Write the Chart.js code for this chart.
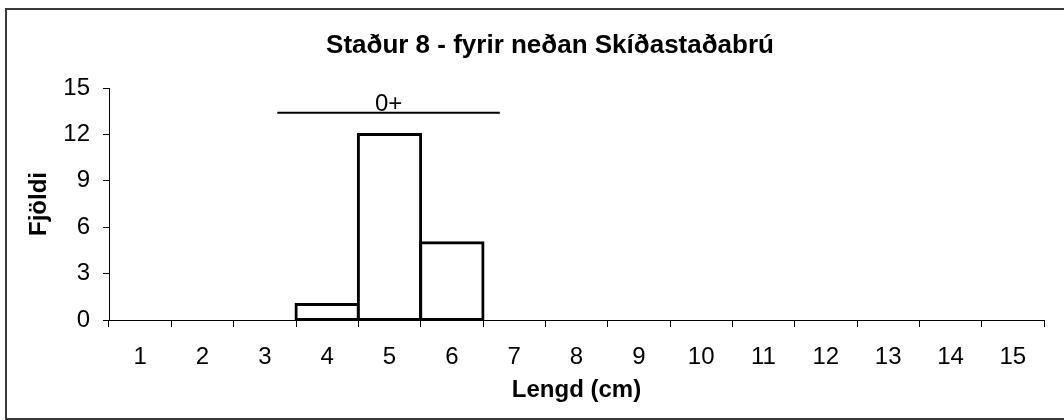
<!DOCTYPE html>
<html>
<head>
<meta charset="utf-8">
<script src="https://cdn.jsdelivr.net/npm/chart.js@4.4.1/dist/chart.umd.min.js"></script>
<style>
    html, body { margin: 0; padding: 0; background: #fff; }
</style>
</head>
<body>
<canvas id="lengthChart" width="1064" height="420"></canvas>
<script>
// data
const chartTitle = "Staður 8 - fyrir neðan Skíðastaðabrú";
const lengths = ["1", "2", "3", "4", "5", "6", "7", "8", "9", "10", "11", "12", "13", "14", "15"];
const counts = [0, 0, 0, 1, 12, 5, 0, 0, 0, 0, 0, 0, 0, 0, 0];
const yTicks = [0, 3, 6, 9, 12, 15];

// age group bracket (length in cm, level in fish count)
const ageGroups = ["0+"];
const ageGroupFrom = [3.2];
const ageGroupTo = [6.77];
const ageGroupLevel = [13.4];

const FONT = "'Liberation Sans', Arial, sans-serif";
Chart.defaults.font.family = FONT;
Chart.defaults.color = "#000";

const framePlugin = {
    id: "frame",
    beforeDraw(chart) {
        const ctx = chart.ctx;
        ctx.save();
        ctx.fillStyle = "#fff";
        ctx.fillRect(0, 0, chart.width, chart.height);
        ctx.strokeStyle = "#3a3a3a";
        ctx.lineWidth = 2;
        ctx.strokeRect(6, 9, chart.width + 20, chart.height - 10);

        ctx.fillStyle = "#000";
        ctx.font = `bold 26px ${FONT}`;
        ctx.textAlign = "center";
        ctx.textBaseline = "alphabetic";
        ctx.fillText(chartTitle, 550, 53);
        ctx.restore();
    },
};

const ageGroupPlugin = {
    id: "ageGroups",
    afterDatasetsDraw(chart) {
        const { ctx, scales: { x, y } } = chart;
        const first = Number(lengths[0]);
        ctx.save();
        ageGroups.forEach((label, i) => {
            const x0 = x.getPixelForValue(ageGroupFrom[i] - first);
            const x1 = x.getPixelForValue(ageGroupTo[i] - first);
            const yy = y.getPixelForValue(ageGroupLevel[i]);
            ctx.strokeStyle = "#000";
            ctx.lineWidth = 2;
            ctx.beginPath();
            ctx.moveTo(x0, yy);
            ctx.lineTo(x1, yy);
            ctx.stroke();
            ctx.fillStyle = "#000";
            ctx.font = `24px ${FONT}`;
            ctx.textAlign = "center";
            ctx.textBaseline = "alphabetic";
            ctx.fillText(label, (x0 + x1) / 2, yy - 2);
        });
        ctx.restore();
    },
};

const tickFont = { size: 24 };
const titleFont = { size: 24, weight: "bold" };

new Chart(document.getElementById("lengthChart"), {
    type: "bar",
    data: {
        labels: lengths,
        datasets: [
            {
                data: counts,
                backgroundColor: "#fff",
                borderColor: "#000",
                borderWidth: 3,
                borderSkipped: false,
                inflateAmount: (c) => (c.raw > 0 ? 1.5 : 0),
                barPercentage: 1,
                categoryPercentage: 1,
            },
        ],
    },
    options: {
        responsive: false,
        animation: false,
        events: [],
        layout: { padding: { left: 6, right: 20, top: 88, bottom: 0 } },
        plugins: {
            legend: { display: false },
            tooltip: { enabled: false },
            title: { display: false },
        },
        scales: {
            x: {
                offset: true,
                grid: {
                    offset: true,
                    drawOnChartArea: false,
                    drawTicks: true,
                    tickLength: 7,
                    color: "#000",
                },
                border: { color: "#000", width: 1, z: 1 },
                ticks: { font: tickFont, color: "#000", padding: 16, maxRotation: 0, autoSkip: false },
                title: {
                    display: true,
                    text: "Lengd (cm)",
                    font: titleFont,
                    color: "#000",
                    padding: { top: 0, bottom: 15 },
                },
                afterFit(scale) {
                    scale.height = 100;
                },
            },
            y: {
                min: 0,
                max: 15,
                afterBuildTicks(scale) {
                    scale.ticks = yTicks.map((v) => ({ value: v }));
                },
                grid: {
                    drawOnChartArea: false,
                    drawTicks: true,
                    tickLength: 6,
                    color: "#000",
                },
                border: { color: "#000", width: 1, z: 1 },
                ticks: { font: tickFont, color: "#000", padding: 13 },
                title: {
                    display: true,
                    text: "Fjöldi",
                    font: titleFont,
                    color: "#000",
                    padding: { top: 19, bottom: 0 },
                },
                afterFit(scale) {
                    scale.width = 103;
                },
            },
        },
    },
    plugins: [framePlugin, ageGroupPlugin],
});
</script>
</body>
</html>
